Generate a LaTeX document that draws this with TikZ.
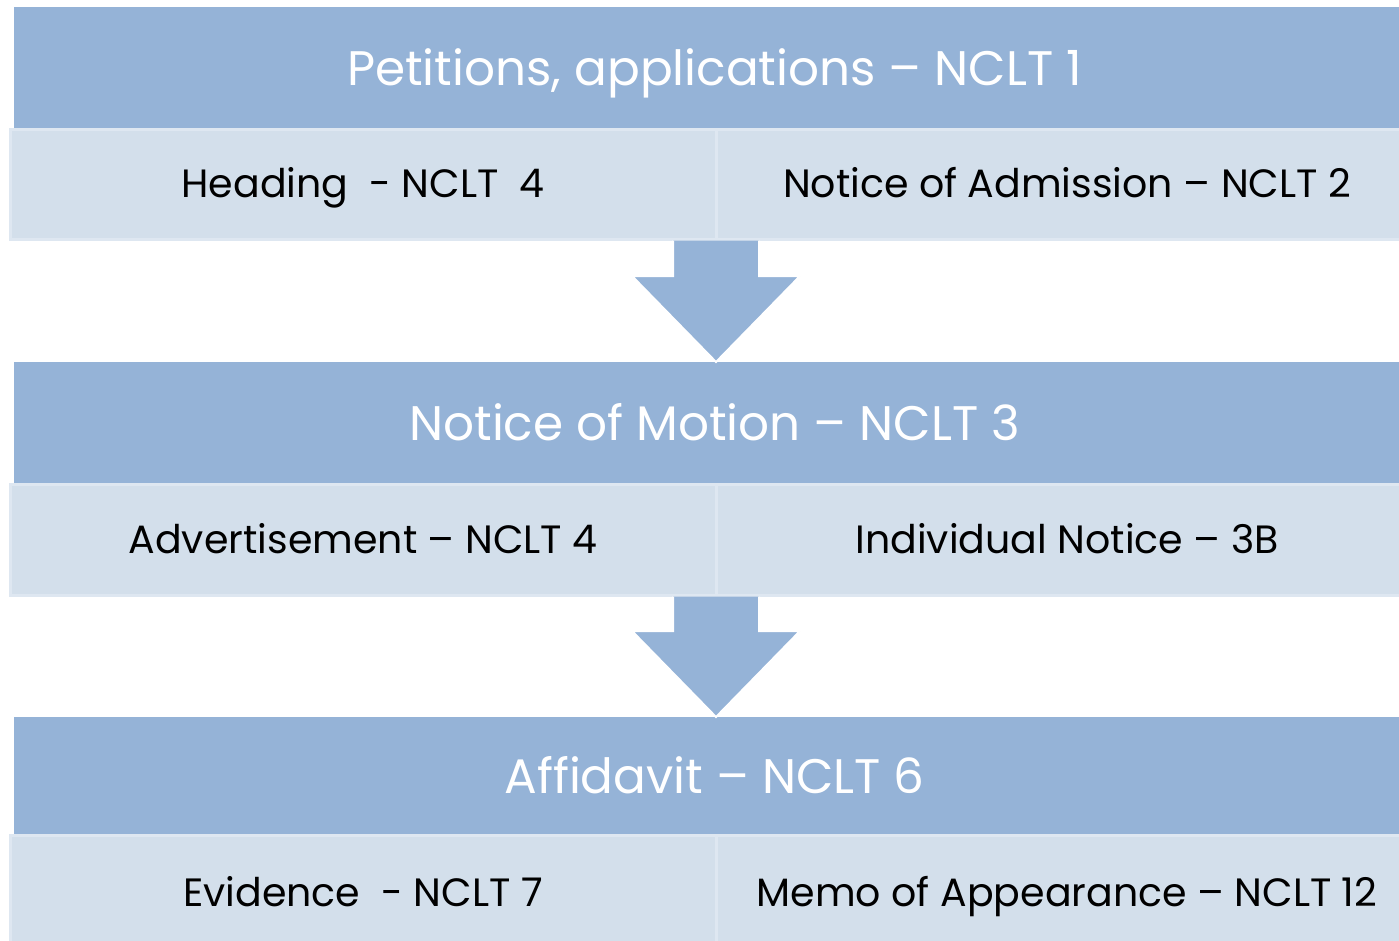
\documentclass[tikz,border=0pt]{standalone}
\usepackage{fontspec}
\setmainfont{Poppins}
\usetikzlibrary{calc}
\definecolor{hdrblue}{RGB}{149,179,215}
\definecolor{cellblue}{RGB}{211,223,235}
\definecolor{celledge}{RGB}{222,231,241}
% block arrow pointing down: #1 = top centre of the shaft, #2 = tip
\newcommand\flowarrow[2]{%
  \fill[hdrblue] let \p1=(#1), \p2=(#2) in
    (\x1-43pt,\y1) -- (\x1+43pt,\y1) -- (\x1+43pt,\y2+86pt) -- (\x1+84pt,\y2+86pt)
    -- (\x2,\y2) -- (\x1-84pt,\y2+86pt) -- (\x1-43pt,\y2+86pt) -- cycle;
  \draw[white, line width=2pt, line join=miter] let \p1=(#1), \p2=(#2) in
    (\x1+43pt,\y1) -- (\x1+43pt,\y2+86pt) -- (\x1+84pt,\y2+86pt)
    -- (\x2,\y2) -- (\x1-84pt,\y2+86pt) -- (\x1-43pt,\y2+86pt) -- (\x1-43pt,\y1);
}
\begin{document}
\begin{tikzpicture}[x=1pt,y=-1pt,
  header/.style={rectangle, fill=hdrblue, anchor=north west, minimum width=1401pt,
    inner sep=0pt, outer sep=0pt, text=white, font=\fontsize{48.5}{58}\selectfont,
    text height=34pt, text depth=0pt},
  cell/.style={rectangle, fill=cellblue, draw=celledge, line width=3pt,
    anchor=north west, inner sep=0pt, outer sep=0pt, text=black,
    font=\fontsize{39.5}{47}\selectfont, text height=27.5pt, text depth=0pt},
  leftcell/.style={cell, minimum width=706pt},
  rightcell/.style={cell, minimum width=702pt}]
\useasboundingbox (0,0) rectangle (1399,940);
\clip (0,0) rectangle (1399,940);
\fill[white] (0,0) rectangle (1399,940);

% first stage
\node[header, minimum height=122pt] (h1) at (14,7) {Petitions, applications – NCLT 1};
\node[leftcell, minimum height=110pt] (l1) at (10,129) {Heading\ \ - NCLT\ \ 4};
\node[rightcell, minimum height=110pt] (r1) at (716,129) {Notice of Admission – NCLT 2};

% second stage
\node[header, minimum height=122pt] (h2) at (14,362) {Notice of Motion – NCLT 3};
\node[leftcell, minimum height=111pt] (l2) at (10,484) {Advertisement – NCLT 4};
\node[rightcell, minimum height=111pt] (r2) at (716,484) {Individual Notice – 3B};

% third stage
\node[header, minimum height=118pt] (h3) at (14,717) {Affidavit – NCLT 6};
\node[leftcell, minimum height=115pt] (l3) at (10,835) {Evidence\ \ - NCLT 7};
\node[rightcell, minimum height=115pt] (r3) at (716,835) {Memo of Appearance – NCLT 12};

% arrows between stages
\coordinate (a1top) at ([yshift=-1.5pt]l1.south east);
\coordinate (a1tip) at (l1.south east |- h2.north);
\coordinate (a2top) at ([yshift=-1.5pt]l2.south east);
\coordinate (a2tip) at (l2.south east |- h3.north);
\flowarrow{a1top}{a1tip}
\flowarrow{a2top}{a2tip}
\end{tikzpicture}
\end{document}
